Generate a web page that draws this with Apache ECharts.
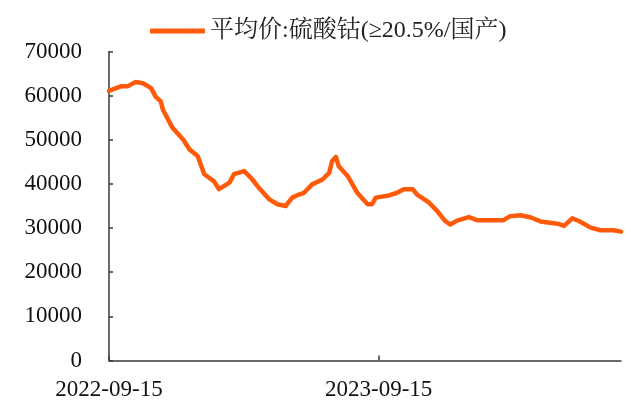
<!DOCTYPE html>
<html>
<head>
<meta charset="utf-8">
<script src="https://cdn.jsdelivr.net/npm/echarts@6/dist/echarts.min.js"></script>
<style>
  html, body { margin: 0; padding: 0; background: #fff; }
  #chart { width: 631px; height: 403px; }
</style>
</head>
<body>
<div id="chart"></div>
<script>
// 平均价:硫酸钴(≥20.5%/国产)，元/吨
const seriesName = "平均价:硫酸钴(≥20.5%/国产)";
const dates = [
  "2022-09-15", "2022-10-01", "2022-10-10", "2022-10-21", "2022-10-31", "2022-11-11",
  "2022-11-17", "2022-11-24", "2022-11-27", "2022-12-10", "2022-12-24", "2023-01-02",
  "2023-01-13", "2023-01-22", "2023-02-04", "2023-02-11", "2023-02-25", "2023-03-03",
  "2023-03-17", "2023-03-26", "2023-04-06", "2023-04-20", "2023-05-01", "2023-05-12",
  "2023-05-21", "2023-05-30", "2023-06-06", "2023-06-17", "2023-07-01", "2023-07-10",
  "2023-07-14", "2023-07-19", "2023-07-23", "2023-08-04", "2023-08-17", "2023-08-31",
  "2023-09-06", "2023-09-11", "2023-09-27", "2023-10-10", "2023-10-19", "2023-10-31",
  "2023-11-06", "2023-11-22", "2023-12-03", "2023-12-14", "2023-12-21", "2023-12-30",
  "2024-01-15", "2024-01-26", "2024-03-02", "2024-03-11", "2024-03-25", "2024-04-08",
  "2024-04-21", "2024-05-14", "2024-05-23", "2024-06-03", "2024-06-12", "2024-06-28",
  "2024-07-11", "2024-07-29", "2024-08-08"
];
const prices = [
  61100, 62100, 62100, 63100, 62800, 61700,
  59800, 58700, 56800, 52700, 50100, 47800,
  46300, 42200, 40600, 38800, 40300, 42200,
  42900, 41400, 39100, 36500, 35400, 35000,
  36900, 37600, 38000, 39900, 41000, 42500,
  45200, 46100, 44000, 41800, 38000, 35400,
  35400, 36900, 37300, 38000, 38800, 38800,
  37600, 35800, 33900, 31600, 30800, 31700,
  32500, 31800, 31800, 32700, 32900, 32400,
  31500, 31000, 30500, 32200, 31600, 30100,
  29500, 29500, 29200
];
// tick labels on x: 2022-09-15, 2023-09-15 (one year = 365 days apart)
const xStart = "2022-09-15";
const xEnd = "2024-08-08";
const DAY = 86400000;

const FONT = "'Liberation Serif', 'Noto Serif CJK SC', 'Noto Sans CJK SC', serif";
const AXIS_COLOR = "#3a3a3a";
const LINE_COLOR = "#ff5a0a";

function toUTC(s) {
  const p = s.split("-");
  return Date.UTC(+p[0], +p[1] - 1, +p[2]);
}
function dayIndex(s) {
  return Math.round((toUTC(s) - toUTC(xStart)) / DAY);
}
function pad(n) { return n < 10 ? "0" + n : "" + n; }
function dayLabel(v) {
  const d = new Date(toUTC(xStart) + v * DAY);
  return d.getUTCFullYear() + "-" + pad(d.getUTCMonth() + 1) + "-" + pad(d.getUTCDate());
}

const chart = echarts.init(document.getElementById("chart"));

const option = {
  animation: false,
  backgroundColor: "#fff",
  textStyle: { fontFamily: FONT },
  legend: {
    data: [seriesName],
    left: 145,
    top: 14,
    icon: "roundRect",
    itemWidth: 55,
    itemHeight: 5,
    itemGap: 8,
    textStyle: { fontFamily: FONT, fontSize: 24, color: "#222" }
  },
  grid: {
    left: 109,
    right: 10,
    top: 51.5,
    bottom: 42.5
  },
  xAxis: {
    type: "value",
    min: 0,
    max: dayIndex(xEnd),
    interval: 365,
    splitLine: { show: false },
    axisLine: { lineStyle: { color: AXIS_COLOR, width: 1.5 } },
    axisTick: { inside: true, length: 5, lineStyle: { color: AXIS_COLOR, width: 1.5 } },
    axisLabel: {
      margin: 18,
      fontFamily: FONT,
      fontSize: 23,
      color: "#111",
      showMaxLabel: false,
      formatter: dayLabel
    }
  },
  yAxis: {
    type: "value",
    min: 0,
    max: 70000,
    interval: 10000,
    splitLine: { show: false },
    axisLine: { show: true, lineStyle: { color: AXIS_COLOR, width: 1.5 } },
    axisTick: { inside: true, length: 4, lineStyle: { color: AXIS_COLOR, width: 1.5 } },
    axisLabel: {
      margin: 27,
      fontFamily: FONT,
      fontSize: 23,
      color: "#111",
      formatter: function (v) { return String(v); }
    }
  },
  series: [
    {
      name: seriesName,
      type: "line",
      symbol: "none",
      color: LINE_COLOR,
      lineStyle: { color: LINE_COLOR, width: 4.5, join: "round", cap: "round" },
      data: dates.map((d, i) => [dayIndex(d), prices[i]])
    }
  ]
};
chart.setOption(option);
</script>
</body>
</html>
